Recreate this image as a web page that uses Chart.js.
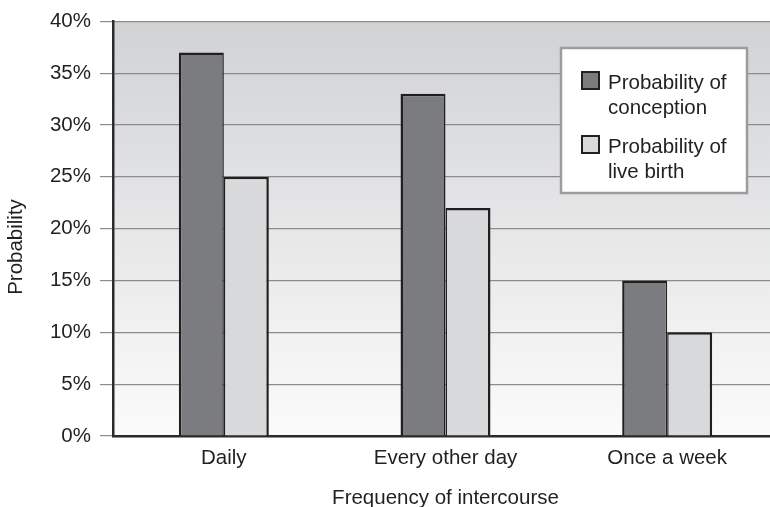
<!DOCTYPE html>
<html>
<head>
<meta charset="utf-8">
<title>Probability by frequency of intercourse</title>
<script src="https://cdn.jsdelivr.net/npm/chart.js@4/dist/chart.umd.min.js"></script>
<style>
  html, body { margin: 0; padding: 0; background: #fff; overflow: hidden; }
  #wrap { width: 770px; height: 507px; overflow: hidden; }
</style>
</head>
<body>
<div id="wrap">
  <canvas id="chartFreq" width="800" height="507"></canvas>
</div>
<script>
/* =========================
   DADOS
========================= */

const categories = ["Daily", "Every other day", "Once a week"];
const conception = [37, 33, 15];
const liveBirth = [25, 22, 10];

const seriesLabels = ["Probability of conception", "Probability of live birth"];
const legendLines = [["Probability of", "conception"], ["Probability of", "live birth"]];

const yMin = 0;
const yMax = 40;
const yStep = 5;

const FONT = "'Liberation Sans', Arial, Helvetica, sans-serif";
const INK = "#231f20";

/* =========================
   PLUGINS
========================= */

// fundo degradê da área do gráfico
const plotBackground = {
  id: "plotBackground",
  beforeDraw(chart) {
    const { ctx, chartArea: a } = chart;
    const g = ctx.createLinearGradient(0, a.top, 0, a.bottom);
    g.addColorStop(0, "#d1d2d4");
    g.addColorStop(1, "#fbfbfb");
    ctx.save();
    ctx.fillStyle = g;
    ctx.fillRect(a.left, a.top, a.right - a.left, a.bottom - a.top);
    ctx.restore();
  }
};

// título do eixo Y
const yTitle = {
  id: "yTitle",
  afterDraw(chart) {
    const { ctx } = chart;
    ctx.save();
    ctx.translate(16.5, 247);
    ctx.rotate(-Math.PI / 2);
    ctx.font = "20.5px " + FONT;
    ctx.fillStyle = INK;
    ctx.textAlign = "center";
    ctx.textBaseline = "middle";
    ctx.fillText("Probability", 0, 0);
    ctx.restore();
  }
};

// legenda em caixa, texto em duas linhas
const boxLegend = {
  id: "boxLegend",
  afterDraw(chart) {
    const { ctx } = chart;
    const box = { x: 561, y: 48, w: 186, h: 145 };
    ctx.save();
    ctx.fillStyle = "#ffffff";
    ctx.fillRect(box.x, box.y, box.w, box.h);
    ctx.strokeStyle = "#9c9c9c";
    ctx.lineWidth = 2.5;
    ctx.strokeRect(box.x, box.y, box.w, box.h);

    ctx.font = "20.5px " + FONT;
    ctx.textAlign = "left";
    ctx.textBaseline = "alphabetic";

    chart.data.datasets.forEach((ds, i) => {
      const top = 71 + i * 64;
      ctx.fillStyle = ds.backgroundColor;
      ctx.fillRect(581, top, 19, 19);
      ctx.strokeStyle = INK;
      ctx.lineWidth = 2;
      ctx.strokeRect(582, top + 1, 17, 17);

      ctx.fillStyle = INK;
      legendLines[i].forEach((line, j) => {
        ctx.fillText(line, 608, top + 18 + j * 24.5);
      });
    });
    ctx.restore();
  }
};

/* =========================
   CHART
========================= */

const canvasFreq = document.getElementById("chartFreq");

new Chart(canvasFreq, {
  type: "bar",
  data: {
    labels: categories,
    datasets: [
      {
        label: seriesLabels[0],
        data: conception,
        backgroundColor: "#7b7c80",
        borderColor: INK,
        borderWidth: { top: 2.5, left: 2.5, right: 1.5 },
        borderSkipped: "start"
      },
      {
        label: seriesLabels[1],
        data: liveBirth,
        backgroundColor: "#d8d9db",
        borderColor: INK,
        borderWidth: { top: 2.5, left: 1.5, right: 2.5 },
        borderSkipped: "start"
      }
    ]
  },
  options: {
    responsive: false,
    animation: false,
    layout: { padding: { top: 19, right: 22, bottom: 0, left: 0 } },
    datasets: {
      bar: { categoryPercentage: 0.406, barPercentage: 1 }
    },
    plugins: {
      legend: { display: false },
      tooltip: { enabled: false }
    },
    scales: {
      x: {
        grid: { display: false, drawTicks: false },
        border: { color: "#2b2b2b", width: 2.5 },
        ticks: {
          color: INK,
          padding: 10,
          font: { family: FONT, size: 20.5 }
        },
        title: {
          display: true,
          text: "Frequency of intercourse",
          color: INK,
          padding: 0,
          font: { family: FONT, size: 20.5, lineHeight: 0.85 }
        },
        afterFit(scale) { scale.height = 71; }
      },
      y: {
        min: yMin,
        max: yMax,
        grid: {
          color: "#8c8c8c",
          lineWidth: 1.2,
          tickLength: 13,
          drawTicks: true
        },
        border: { color: "#2b2b2b", width: 2.5 },
        ticks: {
          stepSize: yStep,
          color: INK,
          padding: 9,
          font: { family: FONT, size: 20.5 },
          callback: v => v + "%"
        },
        afterFit(scale) { scale.width = 113; }
      }
    }
  },
  plugins: [plotBackground, yTitle, boxLegend]
});
</script>
</body>
</html>
